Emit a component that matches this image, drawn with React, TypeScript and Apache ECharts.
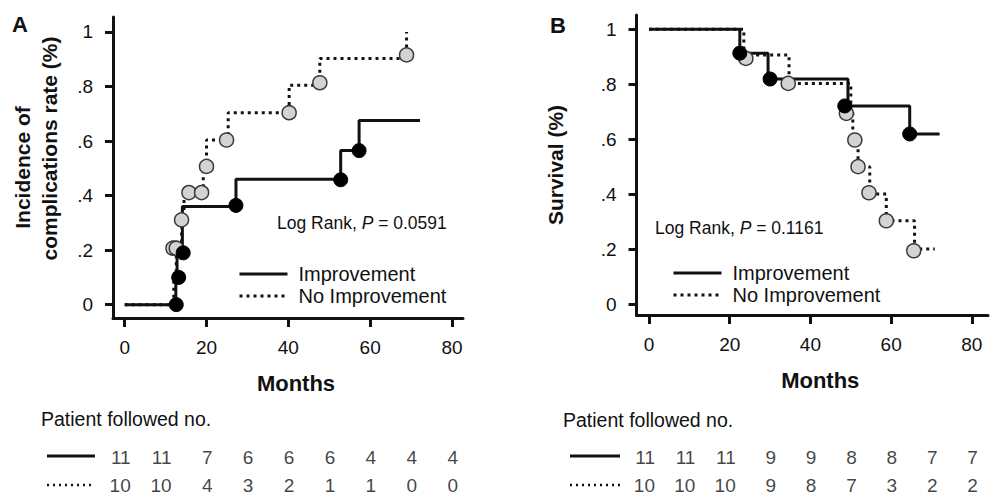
import React, { useEffect, useRef } from 'react';
import * as echarts from 'echarts';

const FONT = '"Liberation Sans", Arial, Helvetica, sans-serif';
const INK = '#111111';

// ---- axis ticks ----
const monthTicks = [0, 20, 40, 60, 80];
const rateTicks = [0, 0.2, 0.4, 0.6, 0.8, 1];

// ---- Panel A: incidence of complications (step curves) ----
const aImpTimes = [0, 12.5, 12.8, 14.1, 27.2, 52.8, 57.3, 72.2];
const aImpValues = [0, 0.1, 0.19, 0.36, 0.46, 0.565, 0.675, 0.675];
const aImpMarks = [[12.6, 0], [13.2, 0.1], [14.3, 0.19], [27.2, 0.364], [52.8, 0.458], [57.3, 0.565]];

const aNoTimes = [0, 12, 12.6, 13.9, 14.5, 19.2, 20, 25.3, 40.2, 47.7, 68.9];
const aNoValues = [0, 0.1, 0.207, 0.311, 0.411, 0.507, 0.604, 0.704, 0.805, 0.903, 1.0];
const aNoMarks = [[11.8, 0.207], [12.6, 0.207], [13.9, 0.311], [15.7, 0.411], [18.8, 0.411], [20, 0.507], [24.9, 0.604], [40.2, 0.704], [47.7, 0.814], [68.9, 0.916]];

// ---- Panel B: survival (step curves) ----
const bImpTimes = [0, 22.5, 29.5, 49.3, 64.6, 72];
const bImpValues = [1, 0.913, 0.819, 0.721, 0.619, 0.619];
const bImpMarks = [[22.5, 0.913], [30, 0.819], [48.5, 0.721], [64.6, 0.619]];

const bNoTimes = [0, 23.5, 34.7, 50, 50.5, 51.8, 54.7, 58.8, 65.8, 70.8];
const bNoValues = [1, 0.906, 0.803, 0.7, 0.6, 0.5, 0.4, 0.303, 0.2, 0.2];
const bNoMarks = [[24, 0.894], [34.5, 0.803], [48.9, 0.694], [51, 0.597], [51.8, 0.5], [54.5, 0.405], [58.8, 0.303], [65.6, 0.194]];

// ---- Number-at-risk tables ----
const riskMonths = [0, 10, 20, 30, 40, 50, 60, 70, 80];
const aRiskImp = [11, 11, 7, 6, 6, 6, 4, 4, 4];
const aRiskNo = [10, 10, 4, 3, 2, 1, 1, 0, 0];
const bRiskImp = [11, 11, 11, 9, 9, 8, 8, 7, 7];
const bRiskNo = [10, 10, 10, 9, 8, 7, 3, 2, 2];

const DOT: number[] = [3, 4];

function pairs(ts: number[], vs: number[]) {
  return ts.map((t, i) => [t, vs[i]]);
}

function mainX(min: number, max: number, idx: number) {
  return {
    type: 'value', gridIndex: idx, min, max,
    name: 'Months', nameLocation: 'middle', nameGap: 54,
    nameTextStyle: { fontSize: 22, fontWeight: 'bold', fontFamily: FONT, color: INK, padding: [0, 0, 0, 16] },
    axisLine: { show: true, onZero: false, lineStyle: { color: INK, width: 3 } },
    axisTick: { show: true, customValues: monthTicks, length: 9, lineStyle: { color: INK, width: 3 } },
    axisLabel: { customValues: monthTicks, fontSize: 19, fontFamily: FONT, color: INK, margin: 20 },
    splitLine: { show: false },
  };
}

function rateLabel(v: number) {
  const s = (+v).toFixed(1);
  if (s === '0.0') return '0';
  if (s === '1.0') return '1';
  return s.replace(/^0/, '');
}

function mainY(min: number, max: number, idx: number, name: string, nameGap: number, rich?: any) {
  return {
    type: 'value', gridIndex: idx, min, max,
    name, nameLocation: 'middle', nameGap, nameRotate: 90,
    nameTextStyle: { fontSize: 21, fontWeight: 'bold', fontFamily: FONT, color: INK, lineHeight: 27, rich },
    axisLine: { show: true, onZero: false, lineStyle: { color: INK, width: 3 } },
    axisTick: { show: true, customValues: rateTicks, length: 8, lineStyle: { color: INK, width: 3 } },
    axisLabel: { customValues: rateTicks, fontSize: 19, fontFamily: FONT, color: INK, margin: 20, formatter: rateLabel },
    splitLine: { show: false },
  };
}

function stepLine(name: string, data: number[][], idx: number, dotted: boolean) {
  return {
    type: 'line', name, step: 'end', xAxisIndex: idx, yAxisIndex: idx, data,
    symbol: 'none', silent: true, z: dotted ? 3 : 2,
    lineStyle: { color: INK, width: 3, type: dotted ? DOT : 'solid', cap: 'butt' },
    itemStyle: { color: INK },
  };
}

function marks(name: string, data: number[][], idx: number, filled: boolean) {
  return {
    type: 'scatter', name, xAxisIndex: idx, yAxisIndex: idx, data,
    symbol: 'circle', symbolSize: 14, silent: true, z: filled ? 5 : 4,
    itemStyle: filled
      ? { color: '#000000', borderColor: '#000000', borderWidth: 1, opacity: 1 }
      : { color: '#d3d3d3', borderColor: '#3a3a3a', borderWidth: 1.5, opacity: 1 },
  };
}

function riskRow(name: string, counts: number[], row: number, idx: number) {
  return {
    type: 'scatter', name, xAxisIndex: idx, yAxisIndex: idx,
    data: riskMonths.map((m, i) => [m, row, counts[i]]),
    symbolSize: 1, silent: true,
    itemStyle: { color: 'rgba(0,0,0,0)' },
    label: {
      show: true, position: 'inside', align: 'right', verticalAlign: 'middle', offset: [6, 0],
      formatter: (p: any) => String(p.value[2]),
      fontSize: 19, fontFamily: FONT, color: INK,
    },
  };
}

function legend(left: number, top: number) {
  return {
    data: ['Improvement', 'No Improvement'], orient: 'vertical', left, top,
    itemWidth: 48, itemHeight: 14, itemGap: 2, selectedMode: false,
    itemStyle: { opacity: 0 },
    lineStyle: { width: 3 },
    textStyle: { fontSize: 20, fontFamily: FONT, color: INK, padding: [0, 0, 0, 6] },
  };
}

function txt(left: number, top: number, text: string, fontSize: number, bold = false, rich?: any) {
  return {
    type: 'text', left, top, silent: true,
    style: { text, fontSize, fontFamily: FONT, fontWeight: bold ? 'bold' : 'normal', fill: INK, rich },
  };
}

function sampleLine(x1: number, x2: number, y: number, dotted: boolean) {
  return {
    type: 'line', silent: true,
    shape: { x1, y1: y, x2, y2: y },
    style: dotted ? { stroke: INK, lineWidth: 2.5, lineDash: [2, 4] } : { stroke: INK, lineWidth: 3 },
  };
}

const logRich = {
  n: { fontSize: 17.5, fontFamily: FONT, fill: INK },
  i: { fontSize: 17.5, fontFamily: FONT, fill: INK, fontStyle: 'italic' },
};

const option: any = {
  animation: false,
  backgroundColor: '#ffffff',
  grid: [
    { left: 113, top: 17, width: 350, height: 301, outerBoundsMode: 'none' },
    { left: 636.5, top: 15, width: 351.5, height: 300, outerBoundsMode: 'none' },
    { left: 113, top: 443, width: 350, height: 47.6, outerBoundsMode: 'none' },
    { left: 636.5, top: 443, width: 351.5, height: 47.6, outerBoundsMode: 'none' },
  ],
  xAxis: [
    mainX(-2.86, 82.7, 0),
    mainX(-3.1, 84, 1),
    { type: 'value', gridIndex: 2, min: -2.86, max: 82.7, show: false },
    { type: 'value', gridIndex: 3, min: -3.1, max: 84, show: false },
  ],
  yAxis: [
    mainY(-0.049, 1.055, 0, '{a|Incidence of}\n{b|complications rate (%)}', 50, {
      a: { fontSize: 21, fontWeight: 'bold', fontFamily: FONT, color: INK, lineHeight: 27 },
      b: { fontSize: 21, fontWeight: 'bold', fontFamily: FONT, color: INK, lineHeight: 27, padding: [0, 0, 0, 38] },
    }),
    mainY(-0.04, 1.052, 1, 'Survival (%)', 68),
    { type: 'value', gridIndex: 2, min: 0.5, max: 2.2, inverse: true, show: false },
    { type: 'value', gridIndex: 3, min: 0.5, max: 2.2, inverse: true, show: false },
  ],
  legend: [legend(233, 259), legend(667, 258)],
  series: [
    stepLine('Improvement', pairs(aImpTimes, aImpValues), 0, false),
    stepLine('No Improvement', pairs(aNoTimes, aNoValues), 0, true),
    marks('A no improvement events', aNoMarks, 0, false),
    marks('A improvement events', aImpMarks, 0, true),
    stepLine('Improvement', pairs(bImpTimes, bImpValues), 1, false),
    stepLine('No Improvement', pairs(bNoTimes, bNoValues), 1, true),
    marks('B no improvement events', bNoMarks, 1, false),
    marks('B improvement events', bImpMarks, 1, true),
    riskRow('A risk improvement', aRiskImp, 1, 2),
    riskRow('A risk no improvement', aRiskNo, 2, 2),
    riskRow('B risk improvement', bRiskImp, 1, 3),
    riskRow('B risk no improvement', bRiskNo, 2, 3),
  ],
  graphic: [
    txt(12, 13, 'A', 22, true),
    txt(550, 14, 'B', 22, true),
    txt(277, 214, '{n|Log Rank, }{i|P}{n| = 0.0591}', 17.5, false, logRich),
    txt(655, 219, '{n|Log Rank, }{i|P}{n| = 0.1161}', 17.5, false, logRich),
    txt(41, 409, 'Patient followed no.', 19.5),
    txt(563, 410, 'Patient followed no.', 19.5),
    sampleLine(47, 95, 456, false),
    sampleLine(47, 95, 485, true),
    sampleLine(570, 620, 456, false),
    sampleLine(570, 620, 485, true),
  ],
};

export default function App() {
  const ref = useRef<HTMLDivElement>(null);
  useEffect(() => {
    const chart = echarts.init(ref.current as HTMLDivElement, null, { renderer: 'svg' });
    chart.setOption(option);
    return () => chart.dispose();
  }, []);
  return (
    <div
      ref={ref}
      style={{ position: 'absolute', left: 0, top: 0, width: 990, height: 497, background: '#ffffff' }}
    />
  );
}
